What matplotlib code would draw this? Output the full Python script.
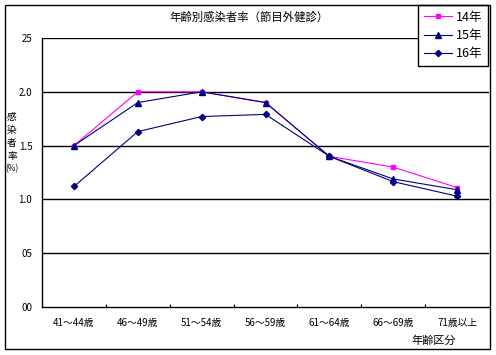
import matplotlib
matplotlib.use("Agg")
import matplotlib.pyplot as plt
from matplotlib.patches import Rectangle

plt.rcParams['font.family'] = ['Noto Sans CJK JP', 'DejaVu Sans']

categories = ["41～44歳", "46～49歳", "51～54歳", "56～59歳", "61～64歳", "66～69歳", "71歳以上"]
y14 = [1.50, 2.00, 2.00, 1.90, 1.40, 1.30, 1.11]
y15 = [1.50, 1.90, 2.00, 1.90, 1.40, 1.19, 1.09]
y16 = [1.12, 1.63, 1.77, 1.79, 1.40, 1.165, 1.03]
series_names = ["14年", "15年", "16年"]
ytick_vals = [0.0, 0.5, 1.0, 1.5, 2.0, 2.5]
ytick_labels = ["00", "05", "1.0", "1.5", "2.0", "25"]
ylabel_parts = ["感", "染", "者", "率", "(%)"]

W, H = 496, 355
fig = plt.figure(figsize=(W / 100, H / 100), dpi=100)
ax = fig.add_axes([42 / W, 1 - 307 / H, (489 - 42) / W, (307 - 38) / H])

x = list(range(len(categories)))
ax.plot(x, y14, color="#FF00FF", lw=0.8, marker="s", ms=3.5, label=series_names[0], zorder=3)
ax.plot(x, y15, color="#000080", lw=0.8, marker="^", ms=4.5, label=series_names[1], zorder=4)
ax.plot(x, y16, color="#000080", lw=0.8, marker="D", ms=3.2, label=series_names[2], zorder=5)

ax.set_xlim(-0.5, len(categories) - 0.5)
ax.set_ylim(0, 2.5)
ax.set_yticks(ytick_vals)
ax.set_yticklabels(ytick_labels, fontsize=7)
for v in ytick_vals[1:]:
    ax.axhline(v, color="black", lw=1.0, zorder=1)

ax.set_xticks(x)
ax.set_xticklabels(categories, fontsize=7)
ax.tick_params(axis='x', length=0, pad=8)
ax.set_xticks([i + 0.5 for i in x[:-1]], minor=True)
ax.tick_params(axis='x', which='minor', direction='in', length=2.5, width=0.8)
ax.tick_params(axis='y', length=0, pad=7)

for s in ["top", "right"]:
    ax.spines[s].set_visible(False)
for s in ["left", "bottom"]:
    ax.spines[s].set_linewidth(1.0)
    ax.spines[s].set_color("black")

fig.text(249 / W, 1 - 17 / H, "年齢別感染者率（節目外健診）", ha="center", va="center", fontsize=8.2)
for i, part in enumerate(ylabel_parts):
    fig.text(12 / W, 1 - (117 + 13 * i) / H, part, ha="center", va="center",
             fontsize=7 if i < 4 else 6, rotation=0)
fig.text(434 / W, 1 - 341 / H, "年齢区分", ha="center", va="center", fontsize=8)

# outer frame
fig.patches.append(Rectangle((5 / W, 1 - 349 / H), (490 - 5) / W, (349 - 5) / H,
                             transform=fig.transFigure, fill=False, ec="black", lw=1.0))

leg = ax.legend(loc="upper left", bbox_to_anchor=(418 / W, 1 - 5 / H), bbox_transform=fig.transFigure,
                fontsize=9, frameon=True, fancybox=False, borderpad=0.45, handlelength=2.3,
                labelspacing=0.42, handletextpad=0.3, borderaxespad=0)
leg.get_frame().set_edgecolor("black")
leg.get_frame().set_linewidth(1.0)
leg.get_frame().set_alpha(1)

fig.savefig("out.png", dpi=100)
